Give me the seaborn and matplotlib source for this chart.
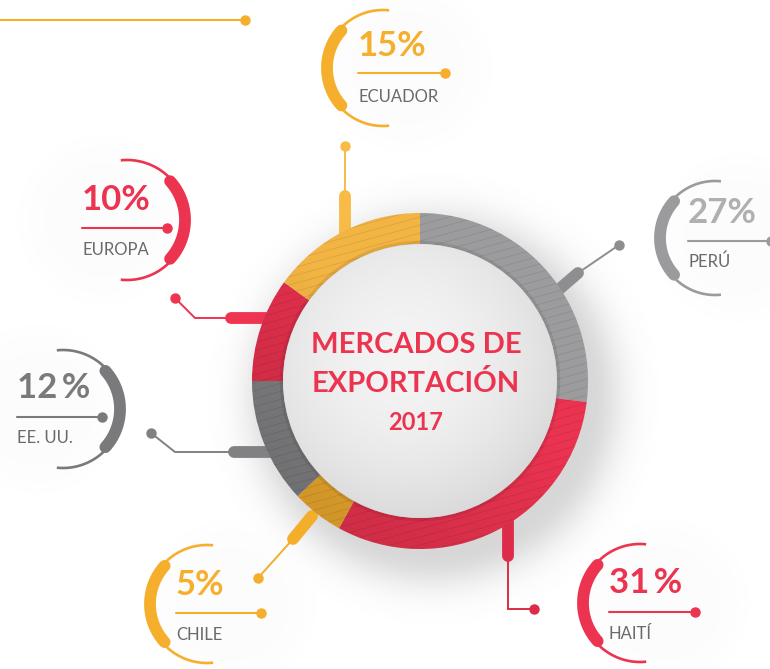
import numpy as np
import pandas as pd
import seaborn as sns
import matplotlib
matplotlib.use("Agg")
import matplotlib.pyplot as plt
from matplotlib.patches import Circle, Wedge

# ---- data -------------------------------------------------------------
countries = ["PERÚ", "HAITÍ", "CHILE", "EE. UU.", "EUROPA", "ECUADOR"]
shares = [27, 31, 5, 12, 10, 15]
pct_gaps = ["", "\u2009", "", "\u2009", "", ""]
title_lines = ["MERCADOS DE", "EXPORTACIÓN"]
year_label = "2017"

YELLOW = "#F6AF2C"
RED = "#EC3350"
GRAY = "#9B9B9D"
DGRAY = "#7A7A7D"

ring_colors = ["#9C9C9E", "#EA3350", "#EDA92E", "#7F7F82", "#E2304C", "#F2B443"]
accent = [GRAY, RED, YELLOW, DGRAY, RED, YELLOW]
pct_colors = ["#B0B0B2", RED, YELLOW, "#7A7A7D", RED, YELLOW]

df = pd.DataFrame({"country": countries, "share": shares,
                   "ring": ring_colors, "accent": accent, "pct_color": pct_colors})
df["pct_text"] = [f"{v}{g}%" for v, g in zip(df["share"], pct_gaps)]

# ---- layout (pixel space, y grows downward) ---------------------------
W, H = 770, 669
CX, CY, R_OUT, RING_W, R_IN = 420, 381, 168, 31, 137

# label groups: arc centre, radius, side of arc, text x, baselines, line end
groups = {
    "ECUADOR": dict(c=(383, 68), r=58, side="left", tx=358, yp=56, yl=73, xe=445, yn=102),
    "PERÚ": dict(c=(715, 238), r=57, side="left", tx=688, yp=223, yl=241, xe=771, yn=267),
    "EUROPA": dict(c=(127, 220), r=60, side="right", tx=82, yp=210, yl=228, xe=167, yn=255),
    "EE. UU.": dict(c=(63, 409), r=59, side="right", tx=17, yp=398, yl=417, xe=102, yn=443),
    "CHILE": dict(c=(207, 604), r=59, side="left", tx=176, yp=595, yl=613, xe=261, yn=640),
    "HAITÍ": dict(c=(640, 603), r=59, side="left", tx=609, yp=593, yl=612, xe=695, yn=639),
}

# connectors: thick stub (start, end) then thin polyline ending in a dot
connectors = {
    "ECUADOR": dict(stub=[(345, 196), (345, 236)], thin=[(345, 196), (345, 146)], color="#F8BB45"),
    "PERÚ": dict(stub=[(578, 273), (556, 292)], thin=[(578, 273), (619, 245)], color="#8E8E90"),
    "HAITÍ": dict(stub=[(508, 520), (508, 556)], thin=[(508, 556), (508, 609), (534, 609)], color="#DD2C4A"),
    "CHILE": dict(stub=[(293, 539), (312, 516)], thin=[(293, 539), (258, 578)], color="#F3AE2A"),
    "EE. UU.": dict(stub=[(234, 452), (270, 452)], thin=[(234, 452), (175, 452), (151, 433)], color="#818184"),
    "EUROPA": dict(stub=[(231, 318), (266, 318)], thin=[(231, 318), (195, 318), (175, 298)], color="#EE3451"),
}

sns.set_theme(style="white")
plt.rcParams["font.family"] = ["Lato", "DejaVu Sans"]

fig = plt.figure(figsize=(W / 100, H / 100), dpi=100)
ax = fig.add_axes([0, 0, 1, 1])
ax.set_xlim(0, W)
ax.set_ylim(H, 0)
ax.set_aspect("equal")
ax.axis("off")

yy, xx = np.mgrid[0:H, 0:W] + 0.5

# soft drop shadow around the donut and faint halos behind labels
d_sh = np.hypot(xx - 434, yy - 398)
alpha = 0.28 * np.exp(-(np.clip(d_sh - 156, 0, None) / 34) ** 2)
for g in groups.values():
    hx = g["c"][0] + (25 if g["side"] == "left" else -25)
    dh = np.hypot(xx - hx, yy - g["c"][1])
    alpha = np.maximum(alpha, 0.02 * np.exp(-(np.clip(dh - 40, 0, None) / 35) ** 2))
shadow = np.zeros((H, W, 4))
shadow[..., :3] = 0.45
shadow[..., 3] = alpha
ax.imshow(shadow, extent=(0, W, H, 0), origin="upper", zorder=0, interpolation="bilinear")

# top-left leader line
ax.plot([0, 245], [20, 20], color=YELLOW, lw=1.5, zorder=2)
ax.plot([245], [20], "o", color=YELLOW, ms=6.5, zorder=2)

# connectors
for name, cn in connectors.items():
    xs, ys = zip(*cn["thin"])
    ax.plot(xs, ys, color=cn["color"], lw=1.4, zorder=2, solid_joinstyle="miter")
    ax.plot([xs[-1]], [ys[-1]], "o", color=cn["color"], ms=6.5, zorder=2)
    (x0, y0), (x1, y1) = cn["stub"]
    ax.plot([x0, x1], [y0, y1], color=cn["color"], lw=8.5, solid_capstyle="round", zorder=3)

# donut ring
wedges, _ = ax.pie(df["share"], colors=df["ring"], startangle=-90, counterclock=True,
                   radius=R_OUT, center=(CX, CY), frame=True,
                   wedgeprops=dict(width=RING_W, linewidth=0))
for w in wedges:
    w.set_zorder(4)
ax.set_xlim(0, W)
ax.set_ylim(H, 0)
ax.axis("off")

annulus = Wedge((CX, CY), R_OUT, 0, 360, width=RING_W, facecolor="none", edgecolor="none", zorder=4)
ax.add_patch(annulus)

# light-to-dark shading across the ring
t = (-(xx - CX) * 0.6 + (yy - CY) * 0.8) / R_OUT
shade = np.zeros((H, W, 4))
shade[..., 3] = np.clip(0.10 * (t + 0.2), 0, 0.16)
im = ax.imshow(shade, extent=(0, W, H, 0), origin="upper", zorder=5, interpolation="bilinear")
im.set_clip_path(annulus)

# fine diagonal stripes on the ring
for off in np.arange(-420, 420, 8):
    ln, = ax.plot([CX - 200, CX + 200], [CY + off + 55, CY + off - 55],
                  color="black", alpha=0.09, lw=0.6, zorder=5)
    ln.set_clip_path(annulus)

# sugar-coloured centre
disc = Circle((CX, CY), R_IN, facecolor="none", edgecolor="none", zorder=6)
ax.add_patch(disc)
d_in = np.hypot(xx - CX + 15, yy - CY + 25) / R_IN
centre = np.ones((H, W, 4))
v = np.clip(0.955 - 0.07 * d_in ** 2, 0.85, 1)
centre[..., 0] = v
centre[..., 1] = v
centre[..., 2] = v
im2 = ax.imshow(centre, extent=(0, W, H, 0), origin="upper", zorder=6, interpolation="bilinear")
im2.set_clip_path(disc)
ring_edge = Circle((CX, CY), R_IN + 1.5, facecolor="none", edgecolor=(0, 0, 0, 0.08), lw=2.5, zorder=6)
ax.add_patch(ring_edge)

# centre title
ax.text(416, 353, title_lines[0], ha="center", va="baseline", fontsize=21,
        color="#EC3350", fontweight="bold", zorder=7)
ax.text(416, 392, title_lines[1], ha="center", va="baseline", fontsize=21,
        color="#EC3350", fontweight="bold", zorder=7)
ax.text(416, 430, year_label, ha="center", va="baseline", fontsize=17,
        color="#EC3350", fontweight="bold", zorder=7)

# label groups
for _, row in df.iterrows():
    g = groups[row["country"]]
    cx, cy = g["c"]
    r = g["r"]
    if g["side"] == "left":
        thin = np.radians(np.linspace(84, 276, 120))
        thick = np.radians(np.linspace(138, 222, 60))
    else:
        thin = np.radians(np.linspace(-96, 96, 120))
        thick = np.radians(np.linspace(-42, 42, 60))
    col = row["accent"]
    ax.plot(cx + r * np.cos(thin), cy - r * np.sin(thin), color=col, lw=1.9,
            solid_capstyle="butt", zorder=2)
    ax.plot(cx + (r - 2) * np.cos(thick), cy - (r - 2) * np.sin(thick), color=col, lw=8.5,
            solid_capstyle="round", zorder=2)
    ax.text(g["tx"], g["yp"], row["pct_text"], ha="left", va="baseline", fontsize=25,
            fontweight="bold", color=row["pct_color"], zorder=3)
    ax.plot([g["tx"], g["xe"]], [g["yl"], g["yl"]], color=col, lw=1.5, zorder=2)
    ax.plot([g["xe"]], [g["yl"]], "o", color=col, ms=6.5, zorder=2)
    ax.text(g["tx"], g["yn"], row["country"], ha="left", va="baseline", fontsize=12,
            fontweight="normal", color="#6A6A6C", zorder=3)

fig.savefig("out.png", dpi=100, facecolor="white")
